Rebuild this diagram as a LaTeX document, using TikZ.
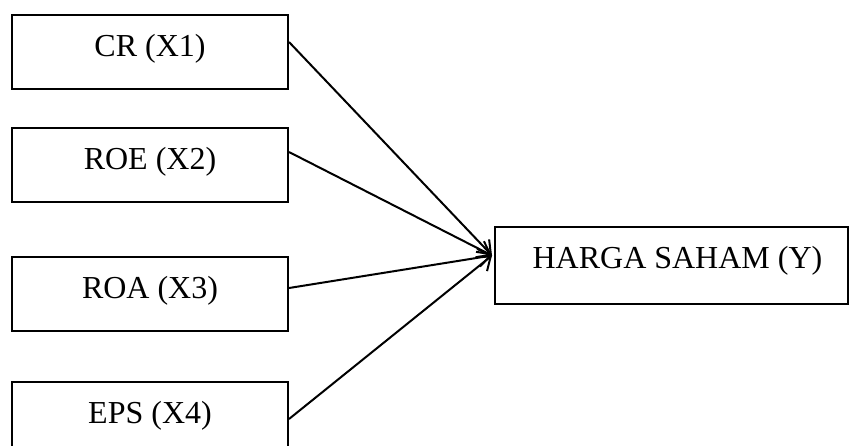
\documentclass[tikz,border=0pt]{standalone}
\usepackage{fontspec}
\setmainfont{Liberation Serif}
\usetikzlibrary{arrows.meta}
\begin{document}
\begin{tikzpicture}[x=0.5pt,y=-0.5pt,
  varbox/.style={draw, line width=1pt, inner sep=0pt,
    minimum width=138pt, text height=20.5pt, text depth=16.5pt,
    font=\fontsize{16}{19}\selectfont},
  link/.style={line width=1pt, -{Straight Barb[length=6pt,width=9pt,line width=1pt]}}]
  \useasboundingbox (0,0) rectangle (849,445);
  % independent variables
  \node[varbox] (x1) at (150,52)  {CR (X1)};
  \node[varbox] (x2) at (150,165) {ROE (X2)};
  \node[varbox] (x3) at (150,294) {ROA (X3)};
  \node[varbox] (x4) at (150,419) {EPS (X4)};
  % dependent variable
  \node[varbox, minimum width=176.5pt, text height=20.5pt, text depth=18pt,
        inner xsep=0pt] (hy) at (671.5,265.5) {\hspace{6pt}HARGA SAHAM (Y)};
  % influence paths
  \draw[link] ([yshift=5pt]x1.east)   -- ([xshift=-1pt,yshift=5pt]hy.west);
  \draw[link] ([yshift=6.5pt]x2.east) -- ([xshift=-1pt,yshift=5pt]hy.west);
  \draw[link] ([yshift=3pt]x3.east)   -- ([xshift=-1pt,yshift=5pt]hy.west);
  \draw[link] (x4.east)               -- ([xshift=-1pt,yshift=5pt]hy.west);
\end{tikzpicture}
\end{document}
